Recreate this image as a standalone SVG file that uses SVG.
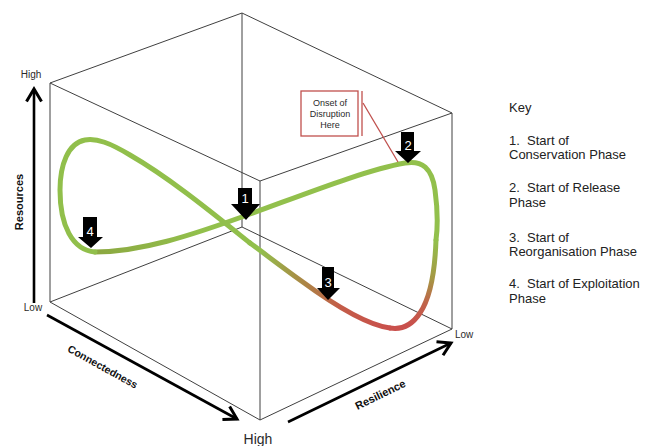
<svg xmlns="http://www.w3.org/2000/svg" width="656" height="446" viewBox="0 0 656 446">
<style>
.edge{stroke:#404040;stroke-width:1;fill:none}
.axis{stroke:#000;stroke-width:2.6;fill:none}
.curve{fill:none;stroke-width:5;stroke-linecap:round}
.lbl{font-family:"Liberation Sans",Arial,sans-serif;fill:#2a2a2a}
.bold{font-family:"Liberation Sans",Arial,sans-serif;font-weight:bold;fill:#111}
.key{font-family:"Liberation Sans",Arial,sans-serif;font-size:13px;fill:#222;white-space:pre}
.num{font-family:"Liberation Sans",Arial,sans-serif;font-size:13px;fill:#fff;text-anchor:middle}
.arrowblk{fill:#000}
</style>
<defs>
<marker id="chev" markerUnits="userSpaceOnUse" markerWidth="20" markerHeight="20" refX="0" refY="0" viewBox="-12 -8 14 16" orient="auto">
<path d="M-10,-6 L0,0 L-10,6" fill="none" stroke="#000" stroke-width="2.4"/>
</marker>
<linearGradient id="gA" gradientUnits="userSpaceOnUse" x1="80" y1="0" x2="200" y2="0">
<stop offset="0" stop-color="#8ba43f"/><stop offset="1" stop-color="#92c04c"/>
</linearGradient>
<linearGradient id="gB" gradientUnits="userSpaceOnUse" x1="0" y1="240" x2="0" y2="325">
<stop offset="0" stop-color="#92c04c"/><stop offset="0.45" stop-color="#a59844"/><stop offset="0.75" stop-color="#c0634a"/><stop offset="1" stop-color="#c9504c"/>
</linearGradient>
<linearGradient id="gC" gradientUnits="userSpaceOnUse" x1="390" y1="0" x2="250" y2="0">
<stop offset="0" stop-color="#c9504c"/><stop offset="0.36" stop-color="#c35c48"/><stop offset="0.64" stop-color="#a98a45"/><stop offset="0.93" stop-color="#92c04c"/>
</linearGradient>
</defs>

<g id="cube">
<path class="edge" d="M242,13 L50,83 L260,181 L452,113 Z"/>
<path class="edge" d="M50,83 L50,302 L260,420 L452,329 L452,113"/>
<path class="edge" d="M260,181 L260,420"/>
<path class="edge" d="M242,13 L242,227 L50,302 M242,227 L452,329"/>
</g>

<g id="cycle">
<path class="curve" stroke="url(#gA)" d="M95,252 C140,252 190,236 250,214 C300,196 365,170 405,163 C422,160 432,168 435,190 C438,212 438,225 436,240"/>
<path class="curve" stroke="url(#gB)" d="M436,240 C435,270 430,298 420,313 C412,325 402,330 390,328"/>
<path class="curve" stroke="url(#gC)" d="M390,328 C365,325 330,302 300,280 C282,267 265,254 250,243"/>
<path class="curve" stroke="#91bf4b" d="M250,243 C215,215 170,178 130,155 C110,143 97,138 85,140 C68,143 60,165 60,190 C60,225 72,250 95,252"/>
</g>

<g id="connectors">
<line class="axis" x1="34" y1="303" x2="34" y2="89" marker-end="url(#chev)"/>
<line class="axis" x1="47" y1="315" x2="237" y2="419" marker-end="url(#chev)"/>
<line class="axis" x1="288" y1="422" x2="451" y2="343" marker-end="url(#chev)"/>
<line x1="363" y1="103" x2="398" y2="162" stroke="#c0504d" stroke-width="1.3"/>
</g>

<g id="marker1">
<path class="arrowblk" d="M238,188 H252 V204 H260 L246,220 L231,204 H238 Z"/>
<text class="num" x="245" y="203">1</text>
</g>
<g id="marker2">
<path class="arrowblk" d="M401,132 H414 V151 H421 L408,163 L395,151 H401 Z"/>
<text class="num" x="408" y="150">2</text>
</g>
<g id="marker3">
<path class="arrowblk" d="M322,267 H334 V288 H340 L328,300 L317,288 H322 Z"/>
<text class="num" x="328" y="287">3</text>
</g>
<g id="marker4">
<path class="arrowblk" d="M83,217 H97 V237 H103 L91,248 L78,237 H83 Z"/>
<text class="num" x="90" y="236">4</text>
</g>

<g id="callout">
<rect x="301" y="91" width="57" height="45" fill="#fff" stroke="#c0504d" stroke-width="1.3"/>
<line x1="362" y1="91" x2="362" y2="136" stroke="#c0504d" stroke-width="1.3"/>
<text class="lbl" font-size="9" text-anchor="middle" x="330" y="106">Onset of</text>
<text class="lbl" font-size="9" text-anchor="middle" x="330" y="117">Disruption</text>
<text class="lbl" font-size="9" text-anchor="middle" x="330" y="128">Here</text>
</g>

<g id="axis-labels">
<text class="lbl" font-size="10" text-anchor="middle" x="31" y="78">High</text>
<text class="lbl" font-size="10" text-anchor="middle" x="33" y="311">Low</text>
<text class="bold" font-size="11" text-anchor="middle" transform="translate(23,202) rotate(-90)">Resources</text>
<text class="bold" font-size="10.5" text-anchor="middle" transform="translate(101,370) rotate(29)">Connectedness</text>
<text class="bold" font-size="11" text-anchor="middle" transform="translate(382,398) rotate(-26)">Resilience</text>
<text class="lbl" font-size="14" text-anchor="middle" x="258" y="444">High</text>
<text class="lbl" font-size="10" x="455" y="338">Low</text>
</g>

<g id="key" xml:space="preserve">
<text class="key" x="509" y="112">Key</text>
<text class="key" x="509" y="145">1.  Start of</text>
<text class="key" x="509" y="159">Conservation Phase</text>
<text class="key" x="509" y="192">2.  Start of Release</text>
<text class="key" x="509" y="207">Phase</text>
<text class="key" x="509" y="242">3.  Start of</text>
<text class="key" x="509" y="256">Reorganisation Phase</text>
<text class="key" x="509" y="288">4.  Start of Exploitation</text>
<text class="key" x="509" y="303">Phase</text>
</g>
</svg>
